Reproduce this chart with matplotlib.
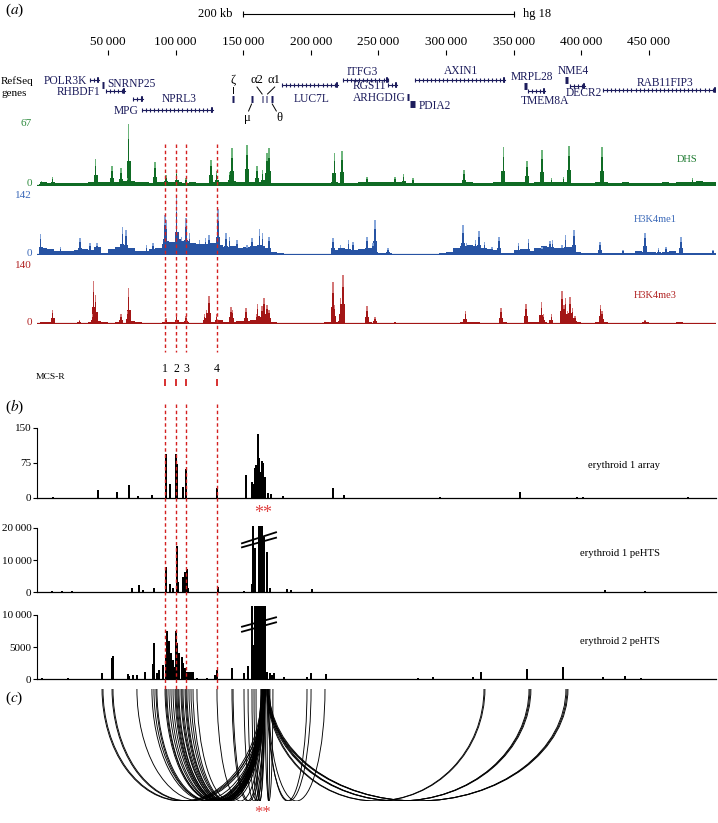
import numpy as np
import matplotlib
matplotlib.use('Agg')
import matplotlib.pyplot as plt
from matplotlib.patches import Arc

plt.rcParams['font.family'] = ['Liberation Serif', 'DejaVu Serif']
plt.rcParams['mathtext.fontset'] = 'stix'

# ---- data (positions in kb along the 500 kb region) ----
ruler_kb = [50, 100, 150, 200, 250, 300, 350, 400, 450]
ruler_labels = ['50\u2009000', '100\u2009000', '150\u2009000', '200\u2009000', '250\u2009000',
                '300\u2009000', '350\u2009000', '400\u2009000', '450 000']

gene_names = ['POLR3K', 'SNRNP25', 'RHBDF1', 'MPG', 'NPRL3', 'LUC7L', 'ITFG3', 'RGS11', 'ARHGDIG',
              'PDIA2', 'AXIN1', 'MRPL28', 'TMEM8A', 'NME4', 'DECR2', 'RAB11FIP3']
gene_start = [36.7, 45.6, 48.5, 68.5, 75.1, 178.7, 223.8, 257.1, 271.2, 273.4, 277.1, 358.0, 360.6, 388.0, 391.7, 416.2]
gene_end = [43.3, 47.1, 62.6, 75.9, 127.7, 220.1, 257.1, 263.8, 272.6, 277.1, 343.6, 360.0, 373.2, 390.2, 402.8, 501.0]

globin_names = ['\u03b6', '\u03bc', '\u03b12', '\u03b11', '\u03b8']
globin_pos = [142.5, 156.5, 164.2, 167.2, 171.1]

# 5 kb background levels of the ChIP / DHS tracks
BIN = 5.0
dhs_bg = [4, 3, 3, 3, 3, 3, 3, 4, 4, 4,
          4, 4, 5, 5, 4, 4, 3, 4, 4, 4,
          4, 3, 4, 3, 3, 4, 4, 4, 5, 4,
          4, 4, 4, 4, 3, 3, 3, 3, 3, 3,
          3, 3, 3, 4, 3, 3, 3, 4, 4, 4,
          4, 4, 4, 4, 3, 3, 3, 3, 3, 3,
          3, 3, 3, 4, 3, 3, 3, 4, 4, 4,
          4, 4, 3, 4, 4, 4, 4, 4, 3, 3,
          3, 3, 4, 4, 3, 3, 4, 3, 3, 3,
          3, 3, 4, 3, 4, 4, 4, 5, 4, 4]
me1_bg = [18, 14, 10, 9, 10, 12, 14, 12, 20, 4,
          14, 20, 22, 16, 10, 9, 14, 16, 28, 32,
          38, 34, 30, 28, 26, 30, 24, 20, 22, 18,
          20, 22, 24, 18, 8, 4, 3, 3, 3, 3,
          3, 3, 3, 12, 16, 14, 12, 14, 16, 8,
          5, 4, 3, 3, 3, 3, 3, 3, 3, 4,
          8, 18, 22, 24, 22, 18, 14, 12, 6, 5,
          12, 14, 10, 18, 22, 20, 16, 18, 20, 8,
          6, 5, 5, 5, 5, 5, 6, 5, 10, 8,
          7, 6, 8, 10, 6, 5, 6, 6, 5, 6]
me3_bg = [4, 4, 3, 3, 3, 3, 3, 4, 8, 4,
          3, 4, 3, 8, 4, 3, 3, 3, 4, 6,
          6, 5, 3, 3, 4, 6, 10, 6, 5, 8,
          8, 10, 14, 12, 4, 3, 3, 3, 3, 3,
          3, 3, 4, 6, 8, 3, 3, 3, 4, 3,
          3, 3, 3, 3, 3, 3, 3, 3, 3, 3,
          3, 3, 5, 4, 4, 3, 3, 3, 4, 3,
          3, 3, 4, 6, 5, 3, 3, 12, 10, 4,
          3, 3, 4, 5, 3, 3, 3, 3, 3, 4,
          3, 3, 3, 3, 4, 3, 3, 3, 3, 3]

dhs_pos = [0.5, 9.3, 41.1, 53.0, 59.6, 64.8, 65.5, 84.8, 92.9, 101.0, 107.7, 126.2, 130.6, 140.2, 141.7,
           152.8, 160.2, 164.6, 167.6, 169.1, 217.2, 223.1, 241.6, 262.3, 268.9, 275.6, 313.3, 342.2,
           359.9, 371.0, 377.7, 386.6, 391.0, 415.4, 482.0]
dhs_val = [5, 10, 29, 21, 19, 8, 66, 25, 12, 17, 8, 28, 16, 15, 40, 44, 21, 17, 35, 40, 35, 37, 10, 10, 13,
           8, 17, 41, 27, 38, 9, 10, 43, 41, 9]

me1_pos = [0.4, 15.2, 29.3, 36.7, 41.9, 60.4, 63.3, 78.8, 83.3, 92.2, 93.6, 101.0, 104.7, 107.7, 110.6,
           118.0, 121.8, 124.7, 131.4, 137.3, 140.2, 145.4, 152.8, 156.5, 162.4, 164.6, 169.1, 216.4,
           222.3, 228.2, 231.2, 241.6, 246.0, 247.5, 257.1, 312.6, 315.5, 321.5, 324.4, 328.8, 334.0,
           339.2, 353.3, 360.7, 371.0, 376.9, 379.1, 385.8, 388.7, 394.7, 413.9, 430.9, 447.2, 457.5,
           462.7, 473.8, 497.5]
me1_val = [51, 20, 41, 29, 29, 68, 61, 24, 29, 98, 86, 140, 45, 90, 53, 37, 41, 49, 112, 53, 45, 37, 24,
           41, 63, 53, 45, 41, 24, 37, 33, 45, 29, 86, 16, 73, 29, 37, 59, 33, 20, 45, 30, 38, 20, 35,
           37, 24, 49, 61, 33, 12, 55, 16, 20, 43, 12]

me3_pos = [1.0, 9.3, 28.6, 38.9, 39.6, 41.1, 59.6, 64.8, 65.5, 92.9, 101.0, 107.7, 121.7, 123.2, 124.7,
           130.6, 141.0, 141.7, 152.1, 160.2, 160.9, 163.9, 165.4, 167.6, 169.1, 216.4, 217.2, 222.3,
           223.8, 241.6, 247.5, 262.3, 314.1, 340.7, 359.2, 370.3, 371.8, 377.7, 385.8, 387.3, 388.7,
           390.2, 391.7, 393.9, 395.4, 414.6, 415.4, 447.2]
me3_val = [6, 35, 10, 23, 103, 71, 23, 31, 87, 14, 23, 20, 23, 35, 67, 24, 40, 35, 39, 23, 48, 43, 63, 47,
           35, 101, 47, 63, 119, 43, 16, 6, 31, 39, 48, 52, 23, 24, 80, 47, 63, 31, 65, 39, 19, 47, 32, 10]

mcs_pos = [92.2, 100.5, 107.8, 130.8]

# erythroid 1 array
arr_pos = [9.3, 42.6, 56.7, 65.5, 72.2, 82.5, 92.9, 95.9, 100.3, 101.0, 105.5, 107.7, 130.6, 152.1, 156.5,
           157.2, 158.7, 159.5, 160.9, 161.7, 163.2, 163.9, 164.6, 166.1, 168.3, 170.6, 179.4, 216.4,
           224.5, 295.5, 354.7, 396.9, 401.3, 479.0]
arr_val = [2, 16, 12, 27, 4, 6, 94, 30, 94, 72, 23, 61, 20, 49, 34, 30, 64, 69, 137, 85, 54, 79, 75, 43,
           10, 7, 4, 21, 5, 2, 11, 2, 2, 1]

# erythroid 1 peHTS
p1_pos = [8.6, 16.0, 23.4, 67.8, 72.9, 75.9, 84.0, 92.9, 95.9, 98.1, 101.0, 101.8, 105.5, 107.0, 108.4,
          109.2, 131.4, 150.6, 156.5, 157.2, 158.7, 161.7, 162.4, 163.2, 163.9, 165.4, 167.6, 169.8,
          182.4, 185.4, 200.9, 345.1, 358.4, 388.0, 417.6, 447.2]
p1_val = [300, 250, 250, 1240, 2270, 720, 1240, 7900, 2575, 1240, 14300, 3300, 4840, 6390, 7100, 1200,
          1550, 500, 2575, 20600, 13600, 20600, 20600, 20600, 20600, 17000, 12400, 1200, 930, 720, 1030,
          200, 200, 200, 620, 500]

# erythroid 2 peHTS
p2_pos = [1.2, 20.4, 45.6, 53.0, 53.7, 64.8, 65.5, 68.5, 71.4, 77.4, 83.3, 84.0, 86.2, 87.7, 90.7, 92.9,
          93.6, 95.1, 96.6, 98.1, 98.8, 100.3, 101.0, 102.5, 104.7, 105.5, 107.0, 108.4, 109.9, 111.4,
          112.9, 115.8, 123.2, 129.1, 130.6, 141.7, 150.6, 153.6, 156.5, 157.5, 158.7, 160.2, 161.7,
          163.2, 164.6, 166.1, 167.6, 169.8, 171.3, 172.8, 180.2, 197.2, 200.2, 211.3, 216.4, 240.1,
          279.3, 290.4, 320.0, 325.9, 359.9, 386.6, 416.2, 432.4, 444.3]
p2_val = [155, 260, 930, 3260, 3680, 780, 520, 670, 670, 1190, 2380, 5650, 930, 1450, 2230, 3260, 7560,
          6000, 4040, 3000, 1970, 7500, 5600, 4040, 3520, 2490, 1710, 1190, 1190, 1190, 1190, 150, 150,
          670, 1450, 1710, 1040, 2050, 11400, 5300, 11400, 11400, 11400, 11400, 11400, 11400, 1190, 930,
          670, 930, 410, 410, 1040, 830, 100, 100, 150, 360, 410, 1190, 1600, 1970, 360, 520, 150]

# interactions (c): fragment -> viewpoint fragment
arc_a = [45.6, 46.3, 53.0, 53.7, 71.4, 82.5, 84.0, 85.5, 86.2, 92.2, 92.9, 93.6, 95.1, 96.6, 98.1, 99.6,
         100.3, 101.0, 101.8, 102.5, 104.0, 104.7, 105.5, 107.0, 107.7, 108.4, 109.9, 111.4, 112.9, 115.8,
         130.6, 141.7, 142.5, 150.6, 153.6, 156.5, 158.0, 159.5,
         167.6, 166.1, 168.3, 167.6, 168.3, 167.6, 168.3, 167.6, 168.3, 169.1, 167.6, 168.3, 169.1]
arc_b = [163.9, 165.4, 164.6, 166.1, 165.4, 164.6, 166.1, 163.9, 165.4, 164.6, 166.1, 163.2, 165.4, 164.6,
         166.1, 163.9, 165.4, 164.6, 166.1, 163.2, 165.4, 164.6, 166.1, 163.9, 165.4, 164.6, 166.1, 165.4,
         164.6, 166.1, 165.4, 164.6, 166.1, 165.4, 166.1, 164.6, 166.1, 165.4,
         169.8, 172.0, 197.2, 200.2, 210.5, 328.1, 328.8, 362.1, 362.8, 361.4, 389.5, 390.2, 388.7]

# ---- layout helpers ----
W, H = 718, 823
X0, X1 = 37, 716
XLIM = (-2.5, 499.7)
fig = plt.figure(figsize=(W / 100, H / 100), dpi=100)


def add_ax(top, bottom, left=X0, right=X1):
    return fig.add_axes([left / W, 1 - bottom / H, (right - left) / W, (bottom - top) / H])


def ftext(x, y, s, **kw):
    fig.text(x / W, 1 - y / H, s, **kw)


def draw_track(ax, bg, pos, val, dark, light, ymax):
    edges = np.arange(len(bg) + 1) * BIN
    ax.stairs(bg, edges, fill=True, color=dark, lw=0)
    val = np.array(val)
    ax.bar(pos, val * 0.4, width=2.4, color=dark, lw=0)
    ax.bar(pos, val, width=0.8, color=light, lw=0)
    ax.bar(pos, val * 0.75, width=0.8, color=dark, lw=0)
    ax.axhline(0, color=dark, lw=1.6)
    ax.set_xlim(XLIM)
    ax.set_ylim(0, ymax)
    ax.axis('off')


def draw_bars(ax, pos, val, ymax, ticks, labels):
    ax.bar(pos, val, width=0.9, color='black', lw=0)
    ax.set_xlim(XLIM)
    ax.set_ylim(0, ymax)
    ax.patch.set_alpha(0)
    for s in ['top', 'right']:
        ax.spines[s].set_visible(False)
    ax.spines['left'].set_bounds(0, ticks[-1])
    ax.spines['left'].set_linewidth(0.8)
    ax.spines['bottom'].set_linewidth(0.9)
    ax.set_xticks([])
    ax.set_yticks(ticks)
    ax.set_yticklabels(labels, fontsize=8)
    ax.tick_params(axis='y', length=3, width=0.8, pad=1)


# ---- (a) tracks ----
ax_dhs = add_ax(123, 186)
draw_track(ax_dhs, dhs_bg, dhs_pos, dhs_val, '#0f6b24', '#6db57c', 67)
ax_me1 = add_ax(197, 255)
draw_track(ax_me1, me1_bg, me1_pos, me1_val, '#2753a3', '#86a6da', 142)
ax_me3 = add_ax(266, 324)
draw_track(ax_me3, me3_bg, me3_pos, me3_val, '#a31616', '#d47878', 140)

ftext(32, 123, '67', color='#2e8b3e', fontsize=8, ha='right', va='center')
ftext(32, 183, '0', color='#2e8b3e', fontsize=8, ha='right', va='center')
ftext(32, 196, '142', color='#3a68b8', fontsize=8, ha='right', va='center')
ftext(32, 253, '0', color='#3a68b8', fontsize=8, ha='right', va='center')
ftext(32, 266, '140', color='#b02020', fontsize=8, ha='right', va='center')
ftext(32, 323, '0', color='#b02020', fontsize=8, ha='right', va='center')
ftext(687, 159, 'DHS', color='#1d7a30', fontsize=7.5, ha='center', va='center')
ftext(655, 220, 'H3K4me1', color='#3a68b8', fontsize=7.5, ha='center', va='center')
ftext(655, 295, 'H3K4me3', color='#b02020', fontsize=7.5, ha='center', va='center')

# ---- (b) bar panels ----
ax_arr = add_ax(427.5, 497.5)
draw_bars(ax_arr, arr_pos, arr_val, 150, [0, 75, 150], ['0', '75', '150'])
ax_p1 = add_ax(592.3 - 64.6 * 1.05, 592.3)
draw_bars(ax_p1, p1_pos, p1_val, 21000, [0, 10000, 20000], ['0', '10\u2009000', '20\u2009000'])
ax_p2 = add_ax(679.3 - 64.3 * 1.15, 679.3)
draw_bars(ax_p2, p2_pos, p2_val, 11500, [0, 5000, 10000], ['0', '5000', '10\u2009000'])

# axis-break marks over the saturated viewpoint bars
for ax, lines in [(ax_p1, [(15170, 18580), (13930, 16900)]), (ax_p2, [(8180, 9640), (7400, 8860)])]:
    for y0, y1 in lines:
        ax.plot([149.1, 174.3], [y0, y1], color='black', lw=1.3, clip_on=False)

ftext(624, 466, 'erythroid 1 array', fontsize=7.7, ha='center', va='center')
ftext(620, 553, 'erythroid 1 peHTS', fontsize=7.7, ha='center', va='center')
ftext(620, 641, 'erythroid 2 peHTS', fontsize=7.7, ha='center', va='center')

# ---- (c) interaction arcs ----
ax_c = add_ax(689, 801)
ax_c.set_xlim(XLIM)
ax_c.set_ylim(-1, 0)
ax_c.axis('off')
for a, b in zip(arc_a, arc_b):
    ax_c.add_patch(Arc(((a + b) / 2, 0), abs(b - a), 2, theta1=180, theta2=360,
                       lw=0.65, color='black'))

# ---- overlay in kb / pixel coords: ruler, genes, MCS-R lines ----
ov = add_ax(0, H)
ov.set_xlim(XLIM)
ov.set_ylim(H, 0)
ov.axis('off')
ov.patch.set_alpha(0)

# scale bar
ov.plot([150, 350], [14, 14], color='black', lw=0.8)
ov.vlines([150, 350], 11, 17, color='black', lw=0.8)
ftext(233, 14, '200 kb', fontsize=9, ha='right', va='center')
ftext(523, 14, 'hg 18', fontsize=9, ha='left', va='center')

# ruler
ov.vlines(ruler_kb, 50, 55, color='black', lw=0.8)
for kb, lab in zip(ruler_kb, ruler_labels):
    ov.text(kb, 42, lab, fontsize=9.5, ha='center', va='center')

# genes
gene_color = '#1c1c5c'
gene_rows = [80, 85, 91, 99, 110, 85, 80, 85, 97, 104, 80, 86, 91, 80, 86, 90]
gene_label = [(34.5, 81, 'right'), (49.3, 84, 'left'), (44.1, 92, 'right'), (72.9, 111, 'right'),
              (102.5, 99, 'center'), (200.9, 99, 'center'), (237.9, 72, 'center'), (255.6, 86, 'right'),
              (270.4, 98, 'right'), (280.0, 106, 'left'), (311.1, 71, 'center'), (363.6, 77, 'center'),
              (373.2, 101, 'center'), (393.9, 71, 'center'), (402.1, 93, 'center'), (462.0, 83, 'center')]
for name, s, e, row, (lx, ly, ha) in zip(gene_names, gene_start, gene_end, gene_rows, gene_label):
    e = min(e, XLIM[1])
    if e - s < 5:
        ov.plot([s, e], [row, row], color=gene_color, lw=5, solid_capstyle='butt')
    else:
        ov.plot([s, e], [row, row], color=gene_color, lw=0.8)
        ov.plot(np.arange(s, e, 3.0), [row] * len(np.arange(s, e, 3.0)), ls='none', marker='|',
                ms=3.5, mew=0.8, color=gene_color)
        ov.plot([e - 1.6, e], [row, row], color=gene_color, lw=4, solid_capstyle='butt')
    ov.text(lx, ly, name, fontsize=8.3, color=gene_color, ha=ha, va='center')

# globin cluster
for p in globin_pos:
    ov.plot([p - 0.6, p + 0.6], [99, 99], color=gene_color, lw=5, solid_capstyle='butt')
ov.text(globin_pos[0], 80, globin_names[0], fontsize=9, ha='center', va='center')
ov.plot([globin_pos[0], globin_pos[0]], [87, 93], color='black', lw=0.7)
ov.text(160.2, 80, globin_names[2], fontsize=9, ha='center', va='center')
ov.plot([160.2, 164.0], [87, 94], color='black', lw=0.7)
ov.text(172.8, 80, globin_names[3], fontsize=9, ha='center', va='center')
ov.plot([173.3, 168.0], [87, 94], color='black', lw=0.7)
ov.text(152.8, 118, globin_names[1], fontsize=9, ha='center', va='center')
ov.plot([156.2, 154.0], [104, 111], color='black', lw=0.7)
ov.text(176.5, 118, globin_names[4], fontsize=9, ha='center', va='center')
ov.plot([171.5, 174.5], [104, 111], color='black', lw=0.7)

ftext(1, 81, 'RefSeq', fontsize=8, ha='left', va='center')
ftext(1, 94, 'genes', fontsize=8, ha='left', va='center')

# MCS-R dashed lines
red = '#d42020'
ov.vlines(mcs_pos, 144, 352, color=red, lw=1, linestyles=(0, (2.5, 2)))
ov.vlines(mcs_pos, 404, 690, color=red, lw=1, linestyles=(0, (2.5, 2)))
ov.vlines(mcs_pos, 379, 386, color=red, lw=1.3)
for i, p in enumerate(mcs_pos):
    ov.text(p, 369, str(i + 1), fontsize=8.5, ha='center', va='center')
ftext(36, 377, 'MCS-R', fontsize=6.8, ha='left', va='center')

# viewpoint markers
ov.text(164.5, 505, '**', color='#e04040', fontsize=13, ha='center', va='top')
ov.text(164.5, 805, '**', color='#e04040', fontsize=12, ha='center', va='top')

# panel letters
ftext(5, 10, r'($\it{a}$)', fontsize=11, ha='left', va='center')
ftext(5, 407, r'($\it{b}$)', fontsize=11, ha='left', va='center')
ftext(5, 698, r'($\it{c}$)', fontsize=11, ha='left', va='center')

fig.savefig('out.png', dpi=100)
